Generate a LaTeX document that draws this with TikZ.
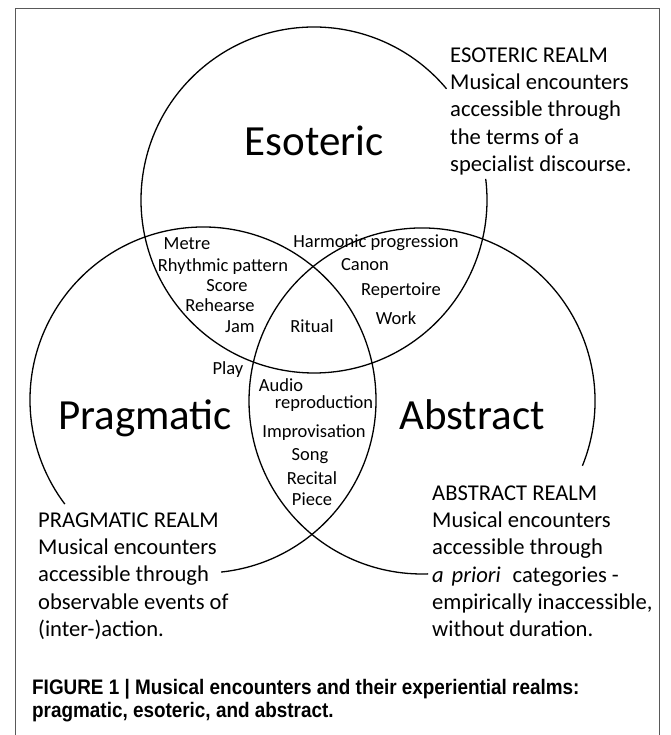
\documentclass[tikz,border=0pt]{standalone}
\usepackage{fontspec}
\setmainfont{Carlito}
\newfontfamily\capfont[FakeStretch=0.9]{Liberation Sans}
\usetikzlibrary{positioning}

\begin{document}
\begin{tikzpicture}[x=1pt, y=1pt,
    realm_name/.style ={font=\fontsize{43}{52}\selectfont, anchor=base, inner sep=0pt},
    encounter/.style ={font=\fontsize{18.5}{22}\selectfont, anchor=base, inner sep=0pt},
    realm_text/.style ={font=\fontsize{22.6}{27.3}\selectfont, align=left,
      anchor=north west, inner sep=0pt},
    fig_caption/.style ={font=\capfont\fontsize{21}{23.5}\selectfont\bfseries, align=left,
      anchor=north west, inner sep=0pt},
    realm_line/.style ={draw, line width=1.3pt},
    frame_line/.style ={draw, black!65, line width=1pt}]

    \useasboundingbox (0,0) rectangle (670,735);

    % outer frame, open at the bottom
    \path [frame_line] (15,-5) -- (15,726) -- (659,726) -- (659,-5);

    % centres of the three realms
    \coordinate (Eso) at (314,535);
    \coordinate (Prag) at (203,335);
    \coordinate (Abs) at (422,334);

    % Drawing circles, each with a gap for its text
    \path [realm_line] (Eso) ++(40:173) arc[start angle=40, end angle=367, radius=173];
    \path [realm_line] (Prag) ++(-84:173) arc[start angle=-84, end angle=217, radius=173];
    \path [realm_line] (Abs) ++(-22:173) arc[start angle=-22, end angle=272, radius=173];

    % Place nodes
    \node [realm_name] (esoteric) at (314,579) {Esoteric};
    \node [realm_name] (pragmatic) at (145,305) {Pragmatic};
    \node [realm_name] (abstract) at (472,305) {Abstract};

    % esoteric and pragmatic
    \node [encounter] (metre) at (187,485) {Metre};
    \node [encounter] (rhythm) at (223,463) {Rhythmic pattern};
    \node [encounter] (score) at (227,443.5) {Score};
    \node [encounter] (rehearse) at (220,423.5) {Rehearse};
    \node [encounter] (jam) at (240,402.5) {Jam};
    % all three
    \node [encounter] (ritual) at (312,402.5) {Ritual};
    % esoteric and abstract
    \node [encounter] (harmonic) at (376,487) {Harmonic progression};
    \node [encounter] (canon) at (365,464.5) {Canon};
    \node [encounter] (repertoire) at (401,439.5) {Repertoire};
    \node [encounter] (work) at (396,410.5) {Work};
    % pragmatic only
    \node [encounter] (play) at (228,360.5) {Play};
    % pragmatic and abstract
    \node [encounter] (audio) at (281,343.5) {Audio};
    \node [encounter] (reproduction) at (324,326.5) {reproduction};
    \node [encounter] (improvisation) at (314,297.5) {Improvisation};
    \node [encounter] (song) at (310,274.5) {Song};
    \node [encounter] (recital) at (312,250.5) {Recital};
    \node [encounter] (piece) at (312,229.5) {Piece};

    % realm descriptions
    \node [realm_text] (esoRealm) at (450,687.5) {ESOTERIC REALM\\Musical encounters\\accessible through\\the terms of a\\specialist discourse.};
    \node [realm_text] (pragRealm) at (38,222.5) {PRAGMATIC REALM\\Musical encounters\\accessible through\\observable events of\\(inter-)action.};
    \node [realm_text] (absRealm) at (432,249.5) {ABSTRACT REALM\\Musical encounters\\accessible through\\\textit{a\hspace{0.35em}priori}\hspace{0.3em} categories -\\empirically inaccessible,\\without duration.};

    \node [fig_caption] (caption) at (32,56) {FIGURE 1 | Musical encounters and their experiential realms:\\pragmatic, esoteric, and abstract.};

\end{tikzpicture}
\end{document}
